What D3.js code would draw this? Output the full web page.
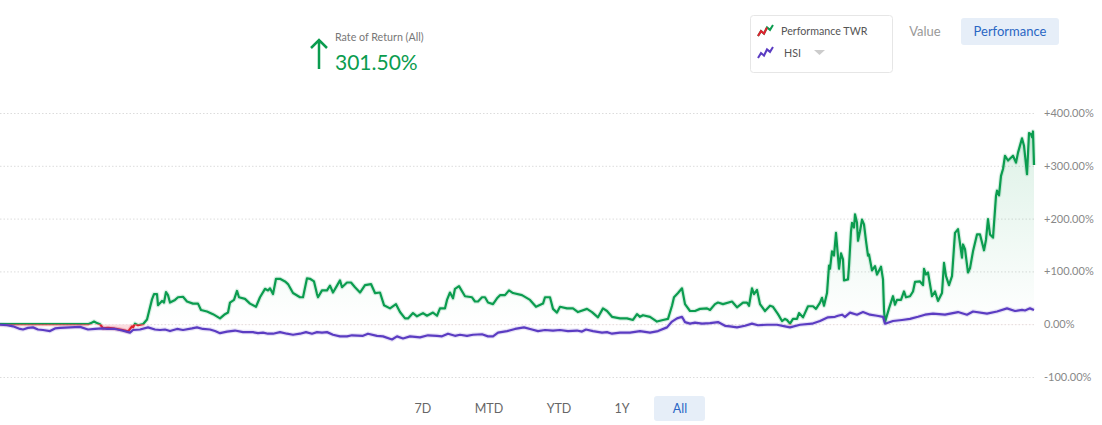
<!DOCTYPE html>
<html>
<head>
<meta charset="utf-8">
<script src="https://cdnjs.cloudflare.com/ajax/libs/d3/7.8.5/d3.min.js"></script>
<style>
    html, body { margin: 0; padding: 0; background: #fff; }
    svg { display: block; }
    text { font-family: Lato, "Open Sans", sans-serif; }
</style>
</head>
<body>
<svg id="chart" width="1102" height="425"></svg>
<script>
// values: [day index] and [percent]
const twrDays = [0,88,91,94,97,100,103,108,113,120,125,128,132,133,135,138,143,147,152,154,157,158,162,164,166,168,170,175,178,183,187,193,198,201,207,213,220,225,228,230,234,237,239,245,250,256,260,265,268,270,273,276,280,285,288,293,300,303,307,310,314,317,318,322,327,330,333,337,340,342,347,351,355,360,365,371,375,380,384,390,396,400,405,408,413,417,423,427,433,437,440,445,447,450,453,455,459,465,472,475,478,482,485,488,493,497,500,505,509,513,522,530,536,543,545,550,553,557,560,567,573,578,587,592,598,603,607,612,620,627,633,637,640,643,650,657,663,668,672,674,678,682,685,690,695,700,707,710,715,718,723,732,737,743,747,749,752,754,757,760,765,770,773,778,782,785,787,790,793,797,799,803,808,813,816,820,822,824,827,829,830,832,834,836,839,841,843,844,848,849,851,852,854,855,857,858,860,862,864,866,868,869,872,875,877,881,883,884,885,889,893,895,897,901,904,906,910,913,915,920,923,924,926,928,932,935,938,942,944,946,949,952,955,958,962,963,965,968,970,973,977,980,984,986,988,990,993,996,997,999,1001,1003,1005,1008,1013,1016,1018,1022,1024,1027,1029,1031,1032,1033,1034];
const twrValues = [0,0,2,5,2,0,-8,-7,-8,-10,-12,-14,-4,-6,1,-2,0,9,47,57,57,36,44,41,61,55,41,46,51,52,43,39,39,27,24,19,11,19,22,41,46,63,51,48,39,33,51,67,64,68,57,86,86,81,76,59,51,51,87,86,81,57,51,64,64,73,60,73,83,70,79,79,70,60,74,76,59,60,36,30,38,23,11,11,21,15,21,16,22,16,30,30,46,60,49,67,72,53,51,43,43,51,51,41,38,49,55,55,64,59,55,46,33,39,51,51,29,22,33,30,30,23,29,23,13,30,25,14,11,11,8,19,14,17,14,5,8,10,35,51,59,68,38,25,25,29,30,27,38,41,38,43,32,41,41,35,68,57,65,38,25,35,33,19,6,10,8,1,10,10,21,13,34,34,29,41,50,35,59,111,105,138,130,173,105,134,123,83,85,110,176,192,183,208,192,158,176,198,189,158,130,132,102,110,94,109,85,27,4,30,53,37,46,46,62,51,53,62,80,81,74,105,94,98,53,62,44,59,116,91,74,91,173,180,126,151,142,98,106,138,170,170,140,160,199,170,164,243,253,244,281,294,319,310,319,306,325,352,338,284,362,360,354,365,301.5];

const hsiDays = [0,7,13,20,23,28,33,38,43,50,55,60,70,80,88,95,102,107,115,122,130,133,140,148,155,160,165,170,177,183,192,197,203,210,215,220,227,235,243,253,258,263,268,273,280,287,293,300,306,312,317,322,327,333,340,347,352,363,368,377,383,392,397,403,410,420,428,437,442,448,455,460,467,473,482,488,493,498,507,515,524,532,538,545,553,560,568,577,582,586,593,602,607,612,620,630,640,650,658,667,672,677,682,685,690,695,702,710,718,725,730,737,745,752,758,767,777,785,790,800,812,820,828,835,838,842,845,850,857,863,870,877,883,885,893,902,910,918,925,933,945,958,967,973,987,997,1007,1015,1022,1025,1030,1034];
const hsiValues = [-1,-2,-4,-9,-10,-7,-6,-10,-11,-13,-8,-7,-6,-5,-10,-9,-8,-9,-9,-12,-16,-11,-10,-6,-10,-11,-10,-13,-9,-11,-8,-6,-9,-10,-13,-17,-14,-12,-15,-15,-17,-16,-18,-18,-15,-18,-20,-18,-15,-18,-15,-16,-15,-20,-23,-23,-21,-22,-18,-22,-23,-29,-23,-27,-23,-25,-21,-22,-23,-18,-22,-20,-22,-20,-19,-23,-23,-16,-13,-9,-6,-10,-13,-11,-12,-11,-13,-12,-14,-10,-13,-16,-15,-18,-16,-16,-13,-16,-13,-6,5,11,14,4,1,3,1,2,4,-3,-4,-6,-3,1,-2,-1,-1,-4,-6,-1,1,6,13,14,16,18,14,22,18,23,18,16,14,1,6,8,10,14,18,20,18,23,18,24,20,24,30,25,27,26,30,27];

const yTicks = [-100,0,100,200,300,400];
const rangeLabels = ['7D','MTD','YTD','1Y','All'];
const legendLabels = ['Performance TWR','HSI'];
const viewLabels = ['Value','Performance'];
const iconValues = [0,4,2,7,5,9];
const returnValue = '301.50%';

const GREEN = '#0b9c4f', RED = '#e0202f', PURPLE = '#5b3cc2', GREY = '#888';

const svg = d3.select('#chart');
const x = d3.scaleLinear().domain([0, 1034]).range([0, 1034]);
const y = d3.scaleLinear().domain([-100, 400]).range([377, 113]);

const twr = twrDays.map((d,i) => ({day: d, value: twrValues[i]}));
const hsi = hsiDays.map((d,i) => ({day: d, value: hsiValues[i]}));

const defs = svg.append('defs');
const grad = defs.append('linearGradient')
    .attr('id', 'greenFill')
    .attr('gradientUnits', 'userSpaceOnUse')
    .attr('x1', 0).attr('x2', 0)
    .attr('y1', y(365)).attr('y2', y(0));
grad.append('stop').attr('offset', 0).attr('stop-color', GREEN).attr('stop-opacity', 0.14);
grad.append('stop').attr('offset', 1).attr('stop-color', GREEN).attr('stop-opacity', 0);

defs.append('clipPath').attr('id', 'aboveZero').append('rect')
    .attr('x', 0).attr('width', 1102).attr('y', 0).attr('height', y(0));
defs.append('clipPath').attr('id', 'belowZero').append('rect')
    .attr('x', 0).attr('width', 1102).attr('y', y(0)).attr('height', 425 - y(0));

// gridlines + labels
const yAxis = d3.axisRight(y)
    .tickValues(yTicks)
    .tickSize(1034)
    .tickPadding(10)
    .tickFormat(d => (d > 0 ? '+' : '') + d.toFixed(2) + '%');

const axisG = svg.append('g').call(yAxis);
axisG.select('.domain').remove();
axisG.selectAll('line')
    .attr('stroke', '#dcdcdc')
    .attr('stroke-dasharray', '1.5,2');
axisG.selectAll('text')
    .attr('fill', GREY)
    .style('font-size', '11px')
    .style('font-family', 'Lato, sans-serif');

const area = d3.area().x(d => x(d.day)).y0(y(0)).y1(d => y(d.value));
const line = d3.line().x(d => x(d.day)).y(d => y(d.value));

svg.append('path').datum(twr)
    .attr('d', area).attr('fill', 'url(#greenFill)')
    .attr('clip-path', 'url(#aboveZero)');
svg.append('path').datum(twr)
    .attr('d', area).attr('fill', '#fbdcdf')
    .attr('clip-path', 'url(#belowZero)');

function drawLine(data, color, clip) {
    // pale halo first, then the line itself
    [[4.5, 0.15], [2.2, 1]].forEach(s => {
        const p = svg.append('path').datum(data)
            .attr('d', line).attr('fill', 'none')
            .attr('stroke', color)
            .attr('stroke-width', s[0])
            .attr('stroke-opacity', s[1])
            .attr('stroke-linejoin', 'round');
        if (clip) p.attr('clip-path', clip);
    });
}
drawLine(twr, RED, 'url(#belowZero)');
drawLine(twr, GREEN, 'url(#aboveZero)');
drawLine(hsi, PURPLE);

// rate of return header
svg.append('path')
    .attr('d', 'M319,69V40M311,48L319,40L327,48')
    .attr('fill', 'none').attr('stroke', GREEN).attr('stroke-width', 2.5);
svg.append('text')
    .attr('x', 335).attr('y', 41)
    .attr('fill', '#777').style('font-size', '10.7px')
    .text('Rate of Return (All)');
svg.append('text')
    .attr('x', 335).attr('y', 70)
    .attr('fill', GREEN).style('font-size', '21px')
    .text(returnValue);

// legend box
svg.append('rect')
    .attr('x', 750.5).attr('y', 15.5).attr('width', 142).attr('height', 57).attr('rx', 3)
    .attr('fill', '#fff').attr('stroke', '#e6e6e6');

const iconX = d3.scaleLinear().domain([0, iconValues.length - 1]);
const iconY = d3.scaleLinear().domain([0, 9]);
function drawIcon(x0, y0, color, color2) {
    iconX.range([x0, x0 + 15]);
    iconY.range([y0 + 11, y0]);
    const icon = d3.line().x((d,i) => iconX(i)).y(d => iconY(d));
    svg.append('path').attr('d', icon(iconValues))
        .attr('fill', 'none').attr('stroke', color).attr('stroke-width', 2);
    if (color2) {
        svg.append('path').attr('d', icon(iconValues.slice(0, 4)))
            .attr('fill', 'none').attr('stroke', color2).attr('stroke-width', 2);
    }
}
drawIcon(758, 25, GREEN, RED);
drawIcon(758, 47, PURPLE);

svg.append('text').attr('x', 781).attr('y', 35)
    .attr('fill', '#555').style('font-size', '10.7px').text(legendLabels[0]);
svg.append('text').attr('x', 784).attr('y', 57)
    .attr('fill', '#555').style('font-size', '10.7px').text(legendLabels[1]);
svg.append('path').attr('d', 'M814,50H825L819.5,55Z').attr('fill', '#ccc');

// value / performance toggle
svg.append('rect')
    .attr('x', 961).attr('y', 18).attr('width', 98).attr('height', 27).attr('rx', 3)
    .attr('fill', '#e6eef8');
svg.append('text').attr('x', 925).attr('y', 36)
    .attr('text-anchor', 'middle').attr('fill', '#999').style('font-size', '13px')
    .text(viewLabels[0]);
svg.append('text').attr('x', 1010).attr('y', 36)
    .attr('text-anchor', 'middle').attr('fill', '#2a66c4').style('font-size', '13px')
    .text(viewLabels[1]);

// range buttons
const rangeX = [423, 489, 559, 622, 680];
svg.append('rect')
    .attr('x', 654).attr('y', 396).attr('width', 51).attr('height', 25).attr('rx', 3)
    .attr('fill', '#e6eef8');
svg.selectAll('text.range')
    .data(rangeLabels)
    .enter()
    .append('text')
    .classed('range', true)
    .attr('x', (d,i) => rangeX[i])
    .attr('y', 413)
    .attr('text-anchor', 'middle')
    .attr('fill', d => d === 'All' ? '#2a66c4' : '#666')
    .style('font-size', '12.5px')
    .text(d => d);
</script>
</body>
</html>
